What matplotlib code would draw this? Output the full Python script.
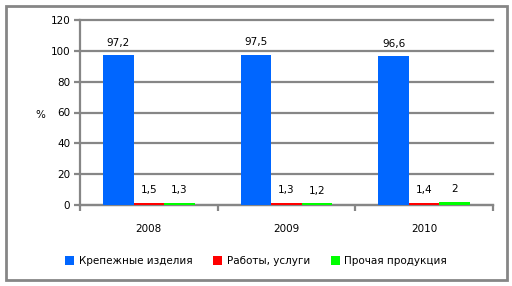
import numpy as np
import matplotlib
matplotlib.use('Agg')
import matplotlib.pyplot as plt
from matplotlib.patches import Rectangle

years = ['2008', '2009', '2010']
series = ['Крепежные изделия', 'Работы, услуги', 'Прочая продукция']
fasteners = [97.2, 97.5, 96.6]
services = [1.5, 1.3, 1.4]
other = [1.3, 1.2, 2.0]
colors = ['#0066FF', '#FF0000', '#00FF00']
grid_color = '#868686'


def fmt(v):
    s = ('%.1f' % v).rstrip('0').rstrip('.')
    return s.replace('.', ',')


plt.rcParams['font.family'] = ['DejaVu Sans']
fig = plt.figure(figsize=(5.12, 2.86), dpi=100)
ax = fig.add_axes([80 / 512, 1 - 205 / 286, 413 / 512, 185 / 286])

x = np.arange(len(years))
w = 0.222
for i, (vals, name, c) in enumerate(zip([fasteners, services, other], series, colors)):
    pos = x + (i - 1) * w
    bars = ax.bar(pos, vals, width=w, color=c, label=name, zorder=3)
    for b, v in zip(bars, vals):
        ax.annotate(fmt(v), xy=(b.get_x() + b.get_width() / 2, v), xytext=(0, 9),
                    textcoords='offset points', ha='center', va='center', fontsize=7.5)

ax.set_xlim(-0.5, 2.5)
ax.set_ylim(0, 120)
ax.set_yticks(range(0, 121, 20))
ax.yaxis.grid(True, color=grid_color, linewidth=1.6, zorder=0)
for gl in ax.get_ygridlines():
    gl.set_clip_on(False)
ax.set_axisbelow(True)
for s in ['top', 'right']:
    ax.spines[s].set_visible(False)
for s in ['left', 'bottom']:
    ax.spines[s].set_color(grid_color)
    ax.spines[s].set_linewidth(1.6)
ax.tick_params(axis='y', length=4, width=1.6, color=grid_color, labelsize=7.5, pad=3)
ax.set_xticks([-0.5, 0.5, 1.5, 2.5])
ax.set_xticklabels([])
ax.set_xticks(x, minor=True)
ax.set_xticklabels(years, minor=True)
ax.tick_params(axis='x', which='major', direction='out', length=4, width=1.6, color=grid_color)
ax.tick_params(axis='x', which='minor', length=0, labelsize=7.5, pad=14)

fig.text(40 / 512, 1 - 115 / 286, '%', ha='center', va='center', fontsize=7.5)

leg = fig.legend(loc='center', bbox_to_anchor=(0.5, 1 - 261 / 286), ncol=3, frameon=False,
                 fontsize=7.5, handlelength=0.9, handleheight=0.9, handletextpad=0.4,
                 columnspacing=2.0)

fig.patches.append(Rectangle((6 / 512, 6 / 286), 501 / 512, 274 / 286, transform=fig.transFigure,
                             fill=False, edgecolor=grid_color, linewidth=2))

fig.savefig('out.png', dpi=100)
